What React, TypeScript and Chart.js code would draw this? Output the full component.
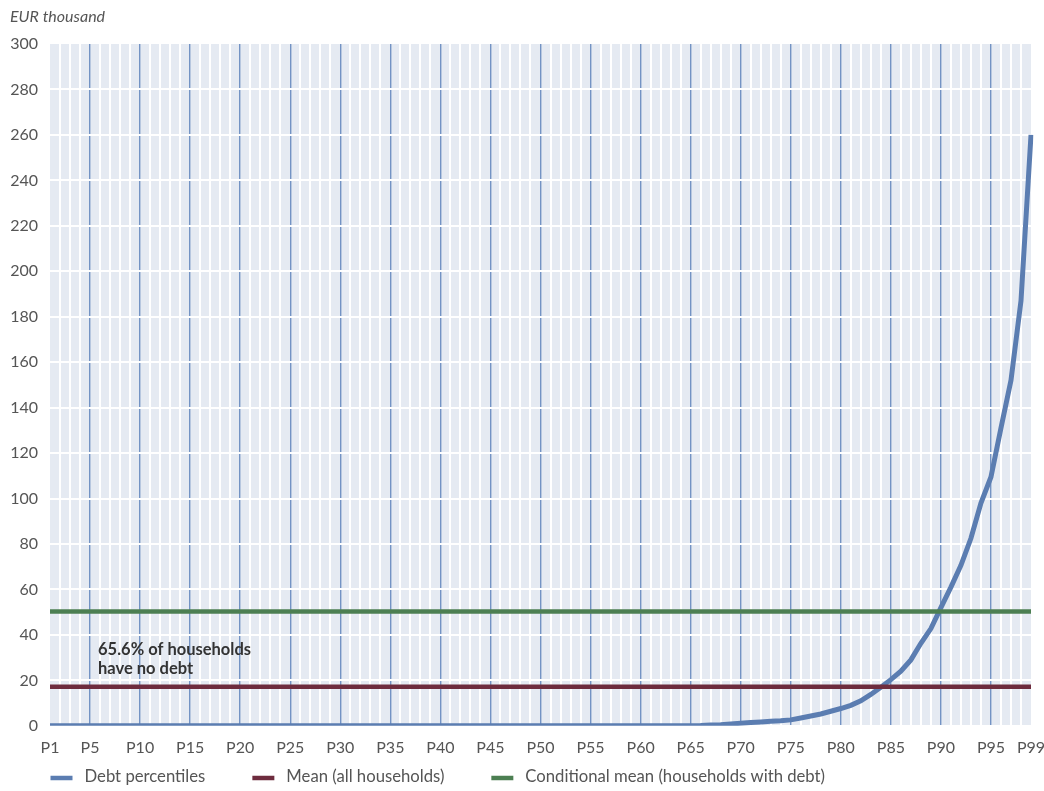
import React, { useEffect, useRef } from 'react';
import { Chart, registerables } from 'chart.js';

Chart.register(...registerables);

// ---- data ----
const percentiles: string[] = Array.from({ length: 99 }, (_, i) => `P${i + 1}`);
const shownTicks: string[] = ['P1', 'P5', 'P10', 'P15', 'P20', 'P25', 'P30', 'P35', 'P40', 'P45', 'P50', 'P55', 'P60', 'P65', 'P70', 'P75', 'P80', 'P85', 'P90', 'P95', 'P99'];
const debtPercentiles: number[] = [
  0, 0, 0, 0, 0, 0, 0, 0, 0, 0,
  0, 0, 0, 0, 0, 0, 0, 0, 0, 0,
  0, 0, 0, 0, 0, 0, 0, 0, 0, 0,
  0, 0, 0, 0, 0, 0, 0, 0, 0, 0,
  0, 0, 0, 0, 0, 0, 0, 0, 0, 0,
  0, 0, 0, 0, 0, 0, 0, 0, 0, 0,
  0, 0, 0, 0, 0,
  0.1, 0.3, 0.5, 0.8, 1.1, 1.4, 1.7, 2.0, 2.2, 2.6,
  3.4, 4.3, 5.2, 6.4, 7.6, 9.0, 11.0, 13.8, 17.0, 20.3,
  24.0, 29.0, 36.3, 42.8, 52.0, 61.0, 70.6, 82.5, 98.0, 109.5,
  131.0, 152.0, 187.0, 260.0,
];
const meanAllHouseholds = 17.2;
const conditionalMean = 50.3;
const yMin = 0;
const yMax = 300;
const yStep = 20;
const unitLabel = 'EUR thousand';
const noteLines: string[] = ['65.6% of households', 'have no debt'];
const noteValue = 31;
const noteIndex = 5;
const seriesLabels: string[] = ['Debt percentiles', 'Mean (all households)', 'Conditional mean (households with debt)'];

const FONT = "Lato, 'Open Sans', sans-serif";
const COLORS = {
  debt: '#5B7DB1',
  mean: '#6E2C3E',
  cond: '#4C7F52',
  bg: '#E5EAF2',
  blueGrid: '#7393C4',
  text: '#555555',
};

export default function App() {
  const ref = useRef<HTMLCanvasElement>(null);

  useEffect(() => {
    if (!ref.current) return;

    const bgPlugin = {
      id: 'plotBg',
      beforeDraw(chart: any) {
        const { ctx, chartArea: a } = chart;
        ctx.save();
        ctx.fillStyle = COLORS.bg;
        ctx.fillRect(a.left, a.top, a.right - a.left, a.bottom - a.top);
        ctx.restore();
      },
    };

    const overlayPlugin = {
      id: 'overlay',
      afterDraw(chart: any) {
        const { ctx, chartArea } = chart;
        const xs = chart.scales.x;
        const ys = chart.scales.y;
        ctx.save();
        // unit label
        ctx.font = `italic 16px ${FONT}`;
        ctx.fillStyle = COLORS.text;
        ctx.textAlign = 'left';
        ctx.textBaseline = 'alphabetic';
        ctx.fillText(unitLabel, 10, 22);

        // annotation
        ctx.font = `bold 16.5px ${FONT}`;
        ctx.fillStyle = '#333333';
        const ax = xs.getPixelForValue(noteIndex) - 2;
        const ay = ys.getPixelForValue(noteValue);
        noteLines.forEach((t, i) => ctx.fillText(t, ax, ay + i * 19));

        // legend
        ctx.font = `16.7px ${FONT}`;
        let x = chartArea.left + 0.5;
        const y = 778;
        chart.data.datasets.forEach((ds: any) => {
          ctx.strokeStyle = ds.borderColor;
          ctx.lineWidth = 4.5;
          ctx.beginPath();
          ctx.moveTo(x, y);
          ctx.lineTo(x + 22, y);
          ctx.stroke();
          ctx.fillStyle = COLORS.text;
          ctx.textBaseline = 'middle';
          ctx.fillText(ds.label, x + 34, y - 1);
          x += 34 + ctx.measureText(ds.label).width + 47;
        });
        ctx.restore();
      },
    };

    const chart = new Chart(ref.current, {
      type: 'line',
      data: {
        labels: percentiles,
        datasets: [
          {
            label: seriesLabels[0],
            data: debtPercentiles,
            borderColor: COLORS.debt,
            backgroundColor: COLORS.debt,
            borderWidth: 5,
            pointRadius: 0,
            tension: 0,
            order: 3,
          },
          {
            label: seriesLabels[1],
            data: [
              { x: percentiles[0], y: meanAllHouseholds },
              { x: percentiles[percentiles.length - 1], y: meanAllHouseholds },
            ],
            borderColor: COLORS.mean,
            backgroundColor: COLORS.mean,
            borderWidth: 4.5,
            pointRadius: 0,
            order: 1,
          },
          {
            label: seriesLabels[2],
            data: [
              { x: percentiles[0], y: conditionalMean },
              { x: percentiles[percentiles.length - 1], y: conditionalMean },
            ],
            borderColor: COLORS.cond,
            backgroundColor: COLORS.cond,
            borderWidth: 4.5,
            pointRadius: 0,
            order: 2,
          },
        ],
      } as any,
      options: {
        animation: false,
        responsive: true,
        maintainAspectRatio: false,
        layout: { padding: { top: 44, right: 13, bottom: 22, left: 0 } },
        plugins: {
          legend: { display: false },
          tooltip: { enabled: false },
        },
        scales: {
          x: {
            type: 'category',
            offset: false,
            border: { display: false },
            afterFit: (scale: any) => {
              scale.paddingRight = 0;
              scale.paddingLeft = 0;
            },
            grid: {
              drawTicks: false,
              color: (c: any) => {
                const i = c.index;
                if (i === 0 || i === percentiles.length - 1) return 'rgba(0,0,0,0)';
                return i % 5 === 4 ? COLORS.blueGrid : '#FFFFFF';
              },
              lineWidth: (c: any) => (c.index % 5 === 4 ? 1.4 : 2),
            },
            ticks: {
              autoSkip: false,
              maxRotation: 0,
              minRotation: 0,
              padding: 12,
              color: COLORS.text,
              font: { family: FONT, size: 16 },
              callback: (_v: any, i: number) => (shownTicks.includes(percentiles[i]) ? percentiles[i] : ''),
            },
          },
          y: {
            min: yMin,
            max: yMax,
            border: { display: false },
            afterFit: (scale: any) => {
              scale.width = 50;
            },
            grid: {
              drawTicks: false,
              color: (c: any) => (c.tick && c.tick.value === yMax ? 'rgba(0,0,0,0)' : '#FFFFFF'),
              lineWidth: 2,
            },
            ticks: {
              stepSize: yStep,
              padding: 12,
              color: COLORS.text,
              font: { family: FONT, size: 16 },
            },
          },
        },
      } as any,
      plugins: [bgPlugin, overlayPlugin],
    });

    return () => chart.destroy();
  }, []);

  return (
    <div style={{ position: 'fixed', left: 0, top: 0, width: 1044, height: 791, background: '#ffffff' }}>
      <canvas ref={ref} />
    </div>
  );
}
